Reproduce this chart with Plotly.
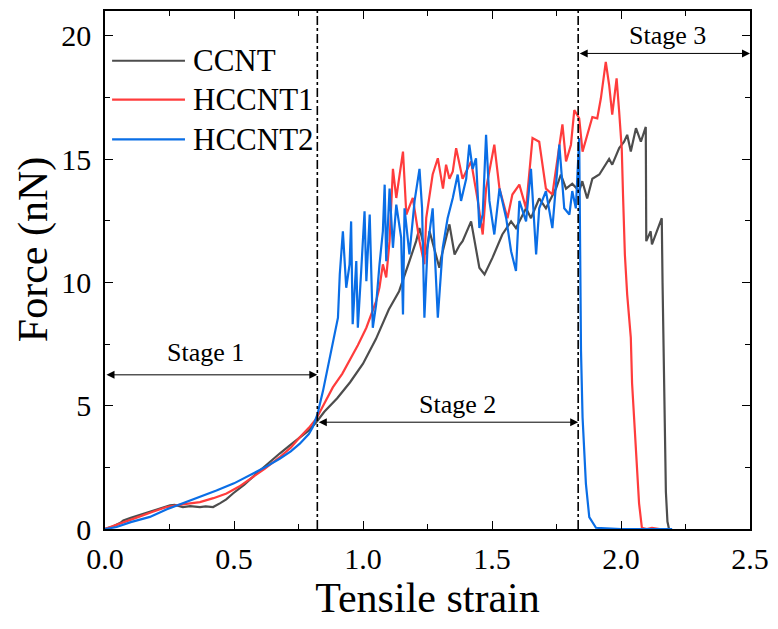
import plotly.graph_objects as go

# ---------------- data (strain, force in nN) ----------------
ccnt_x = [0, 0.03, 0.06, 0.071, 0.1, 0.13, 0.148, 0.19, 0.22, 0.252, 0.27, 0.302, 0.33, 0.368, 0.39, 0.419, 0.445,
          0.47, 0.496, 0.54, 0.587, 0.63, 0.677, 0.72, 0.755, 0.79, 0.819, 0.85, 0.9, 0.95, 1.0, 1.05, 1.1, 1.14,
          1.18, 1.206, 1.219, 1.245, 1.258, 1.296, 1.303, 1.335, 1.355, 1.374, 1.386, 1.419, 1.451, 1.471, 1.502,
          1.54, 1.574, 1.593, 1.632, 1.651, 1.683, 1.709, 1.748, 1.767, 1.787, 1.811, 1.838, 1.85, 1.869, 1.889,
          1.916, 1.954, 1.966, 1.993, 2.012, 2.024, 2.038, 2.058, 2.077, 2.096, 2.098, 2.115, 2.12, 2.158, 2.161,
          2.168, 2.174, 2.18, 2.186, 2.198]
ccnt_y = [0, 0.1, 0.25, 0.35, 0.45, 0.55, 0.63, 0.75, 0.85, 0.96, 0.98, 0.89, 0.93, 0.89, 0.92, 0.89, 1.04,
          1.2, 1.44, 1.8, 2.25, 2.65, 3.06, 3.42, 3.72, 4.0, 4.33, 4.75, 5.3, 5.95, 6.7, 7.7, 8.9, 9.64,
          10.86, 11.67, 12.2, 11.13, 12.07, 10.59, 11.0, 12.35, 11.13, 11.5, 11.67, 12.47, 10.59, 10.32, 11.0,
          11.94, 12.47, 12.2, 13.0, 12.6, 13.4, 13.0, 13.8, 14.37, 13.8, 14.0, 13.7, 14.1, 13.4, 14.2,
          14.37, 15.0, 14.77, 15.44, 15.7, 15.98, 15.3, 16.25, 15.7, 16.3, 11.67, 12.07, 11.54, 12.6, 10.0,
          5.0, 1.5, 0.3, 0.0, 0.0]

hc1_x = [0, 0.058, 0.12, 0.18, 0.239, 0.3, 0.368, 0.42, 0.471, 0.52, 0.574, 0.62, 0.677, 0.72, 0.755, 0.79, 0.819,
         0.85, 0.883, 0.92, 0.948, 0.98, 1.013, 1.051, 1.064, 1.077, 1.09, 1.103, 1.116, 1.129, 1.142, 1.155, 1.168,
         1.193, 1.219, 1.238, 1.245, 1.27, 1.29, 1.31, 1.322, 1.335, 1.348, 1.361, 1.386, 1.419, 1.445, 1.464,
         1.477, 1.509, 1.529, 1.56, 1.579, 1.606, 1.632, 1.657, 1.683, 1.709, 1.734, 1.773, 1.787, 1.806, 1.819,
         1.838, 1.851, 1.869, 1.889, 1.908, 1.922, 1.941, 1.954, 1.966, 1.983, 1.993, 2.003, 2.008, 2.015, 2.024,
         2.032, 2.038, 2.043, 2.05, 2.058, 2.07, 2.081, 2.1, 2.12, 2.15]
hc1_y = [0, 0.23, 0.45, 0.68, 0.89, 1.0, 1.09, 1.25, 1.44, 1.72, 2.1, 2.45, 2.91, 3.3, 3.72, 4.1, 4.47,
         5.1, 5.74, 6.3, 6.82, 7.45, 8.16, 9.24, 9.8, 10.73, 10.2, 11.67, 14.6, 13.42, 14.37, 15.3, 12.75,
         13.42, 11.67, 10.73, 12.6, 14.37, 15.03, 13.8, 14.77, 14.2, 14.5, 15.44, 14.2, 14.9, 13.3, 11.94,
         13.8, 15.58, 13.8, 12.6, 13.56, 13.96, 13.0, 15.85, 15.7, 13.8, 13.56, 16.4, 14.9, 15.58, 16.98,
         16.65, 15.3, 15.98, 16.7, 16.65, 17.46, 18.94, 18.0, 16.8, 18.27, 16.9, 15.4, 13.5, 11.13, 9.5,
         8.6, 7.76, 5.9, 4.5, 3.18, 1.04, 0.05, 0.0, 0.05, 0.0]

hc2_x = [0, 0.045, 0.1, 0.174, 0.24, 0.302, 0.37, 0.432, 0.5, 0.561, 0.62, 0.677, 0.72, 0.755, 0.79, 0.805, 0.824,
         0.845, 0.865, 0.883, 0.903, 0.91, 0.922, 0.935, 0.948, 0.954, 0.96, 0.974, 0.98, 0.993, 1.006, 1.013,
         1.026, 1.038, 1.051, 1.064, 1.077, 1.084, 1.09, 1.103, 1.116, 1.129, 1.148, 1.155, 1.161, 1.18, 1.2,
         1.219, 1.229, 1.238, 1.25, 1.27, 1.29, 1.309, 1.328, 1.348, 1.367, 1.38, 1.4, 1.412, 1.425, 1.438,
         1.451, 1.464, 1.477, 1.49, 1.509, 1.529, 1.555, 1.574, 1.593, 1.606, 1.632, 1.651, 1.671, 1.683,
         1.709, 1.734, 1.761, 1.78, 1.8, 1.811, 1.825, 1.838, 1.842, 1.845, 1.851, 1.864, 1.877, 1.903, 2.0,
         2.1, 2.198]
hc2_y = [0, 0.08, 0.28, 0.49, 0.8, 1.04, 1.3, 1.56, 1.85, 2.17, 2.5, 2.85, 3.15, 3.46, 3.85, 4.12, 4.67,
         5.6, 6.6, 7.49, 8.57, 10.33, 12.07, 9.78, 10.73, 12.47, 8.3, 10.86, 8.16, 10.46, 12.88, 10.05,
         12.75, 8.16, 9.11, 10.73, 12.07, 13.96, 10.86, 13.8, 11.4, 13.15, 11.8, 8.7, 13.0, 11.13, 13.3,
         14.6, 13.0, 8.57, 11.4, 13.0, 8.57, 11.4, 12.6, 13.42, 14.37, 13.3, 14.2, 15.58, 14.6, 15.03,
         12.2, 12.75, 15.98, 13.3, 11.94, 13.8, 12.6, 11.26, 10.46, 13.3, 12.47, 14.6, 11.13, 13.0,
         13.7, 12.2, 15.58, 13.0, 12.75, 13.7, 13.0, 15.85, 11.26, 7.22, 4.53, 1.83, 0.48, 0.05, 0.0,
         0.0, 0.0]

series_names = ["CCNT", "HCCNT1", "HCCNT2"]
series_colors = ["#4d4d4d", "#ff3c3c", "#0a6ee6"]

stage_bounds = [0.0, 0.823, 1.834, 2.5]
stage_labels = ["Stage 1", "Stage 2", "Stage 3"]
stage_arrow_y = [6.25, 4.33, 19.28]
stage_label_pos = [(0.39, 7.15), (1.366, 5.05), (2.18, 20.0)]

x_ticks = [0.0, 0.5, 1.0, 1.5, 2.0, 2.5]
y_ticks = [0, 5, 10, 15, 20]

FONT = "Times New Roman, Liberation Serif, serif"

fig = go.Figure()
data = [(ccnt_x, ccnt_y), (hc1_x, hc1_y), (hc2_x, hc2_y)]
for (xs, ys), name, col in zip(data, series_names, series_colors):
    fig.add_trace(go.Scatter(x=xs, y=ys, mode="lines", name=name,
                             line=dict(color=col, width=2.2), showlegend=False))

# vertical dash-dot boundaries
for b in stage_bounds[1:3]:
    fig.add_shape(type="line", x0=b, x1=b, y0=0, y1=1, xref="x", yref="y domain",
                  line=dict(color="black", width=1.6, dash="dashdot"))

# stage arrows and labels
for i in range(3):
    fig.add_annotation(x=stage_bounds[i + 1], y=stage_arrow_y[i], ax=stage_bounds[i], ay=stage_arrow_y[i],
                       xref="x", yref="y", axref="x", ayref="y", text="", showarrow=True,
                       arrowhead=2, arrowside="end+start", arrowsize=1.6, arrowwidth=1, arrowcolor="black")
    fig.add_annotation(x=stage_label_pos[i][0], y=stage_label_pos[i][1], xref="x", yref="y",
                       text=stage_labels[i], showarrow=False,
                       font=dict(family=FONT, size=26, color="black"))

# manual legend
leg_rows = [0.904, 0.829, 0.752]
for name, col, yy in zip(series_names, series_colors, leg_rows):
    fig.add_shape(type="line", x0=0.011, x1=0.124, y0=yy, y1=yy, xref="x domain", yref="y domain",
                  line=dict(color=col, width=2.2))
    fig.add_annotation(x=0.133, y=yy, xref="x domain", yref="y domain", text=name, showarrow=False,
                       xanchor="left", yanchor="middle", font=dict(family=FONT, size=31, color="black"))

# y-axis title as annotation (positioned as in reference)
fig.add_annotation(x=33, y=249, xref="paper", yref="paper", text="Force (nN)", showarrow=False,
                   textangle=-90, font=dict(family=FONT, size=42, color="black"),
                   xanchor="center", yanchor="middle")

axis_common = dict(showline=True, linecolor="black", linewidth=1.6, mirror="ticks", ticks="inside",
                   ticklen=8, tickwidth=1.4, tickcolor="black", showgrid=False, zeroline=False,
                   tickfont=dict(family=FONT, size=30, color="black"))
fig.update_xaxes(range=[0, 2.5], tickvals=x_ticks, ticktext=[f"{v:.1f}" for v in x_ticks],
                 ticklabelstandoff=2,
                 minor=dict(dtick=0.25, ticks="inside", ticklen=5, tickcolor="black", tickwidth=1.4),
                 title=dict(text="Tensile strain", font=dict(family=FONT, size=42, color="black"), standoff=8),
                 **axis_common)
fig.update_yaxes(range=[0, 21], tickvals=y_ticks, ticktext=[str(v) for v in y_ticks],
                 ticklabelstandoff=6,
                 minor=dict(dtick=2.5, ticks="inside", ticklen=5, tickcolor="black", tickwidth=1.4),
                 **axis_common)

fig.update_layout(width=778, height=629, margin=dict(l=105, r=27, t=9, b=100),
                  plot_bgcolor="white", paper_bgcolor="white", showlegend=False)

# convert the pixel-placed title annotation to paper fractions
pw, ph = 778 - 105 - 27, 629 - 9 - 100
ann = fig.layout.annotations[-1]
ann.x = (33 - 105) / pw
ann.y = (629 - 100 - 249) / ph
ann.xref = "paper"
ann.yref = "paper"

fig.write_html("out.html")
